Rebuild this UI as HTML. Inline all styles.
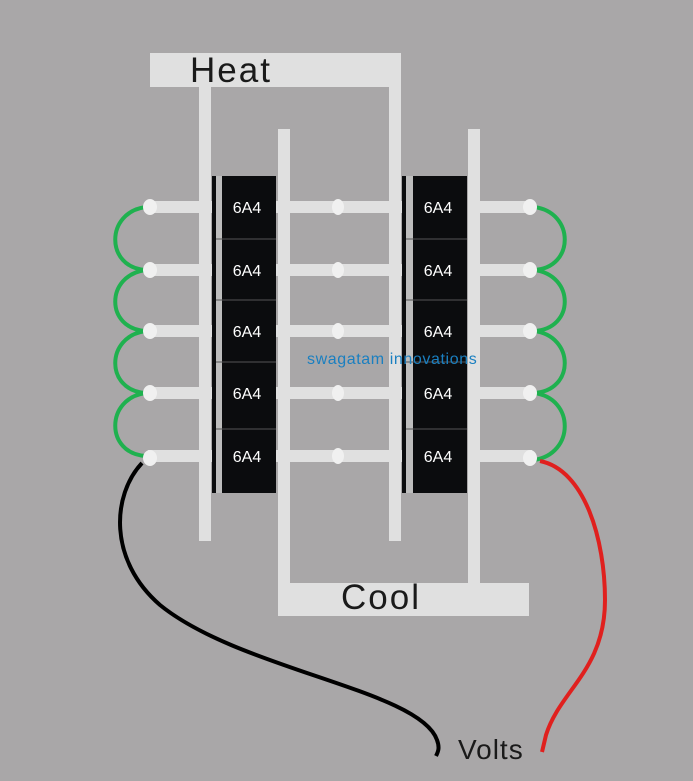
<!DOCTYPE html>
<html><head><style>
html,body{margin:0;padding:0;background:#a9a7a8;}
svg{display:block}
text{font-family:"Liberation Sans",sans-serif}
</style></head><body>
<svg width="693" height="781" viewBox="0 0 693 781">
<rect width="693" height="781" fill="#a9a7a8"/>
<g fill="#e0e0e0">
<rect x="150" y="53" width="251" height="34"/>
<rect x="199" y="87" width="12" height="454"/>
<rect x="389" y="87" width="12" height="454"/>
<rect x="278" y="583" width="251" height="33"/>
<rect x="278" y="129" width="12" height="454"/>
<rect x="468" y="129" width="12" height="454"/>
</g>
<g fill="#e0e0e0">
<rect x="148" y="201" width="130" height="12"/><rect x="290" y="201" width="112" height="12"/><rect x="480" y="201" width="52" height="12"/>
<rect x="148" y="264" width="130" height="12"/><rect x="290" y="264" width="112" height="12"/><rect x="480" y="264" width="52" height="12"/>
<rect x="148" y="325" width="130" height="12"/><rect x="290" y="325" width="112" height="12"/><rect x="480" y="325" width="52" height="12"/>
<rect x="148" y="387" width="130" height="12"/><rect x="290" y="387" width="112" height="12"/><rect x="480" y="387" width="52" height="12"/>
<rect x="148" y="450" width="130" height="12"/><rect x="290" y="450" width="112" height="12"/><rect x="480" y="450" width="52" height="12"/>
</g>
<g fill="#0b0c0e">
<rect x="212" y="176" width="4" height="317"/><rect x="222" y="176" width="54" height="317"/>
<rect x="402" y="176" width="4" height="317"/><rect x="413" y="176" width="54" height="317"/>
</g>
<g fill="#bdbdbd">
<rect x="216" y="176" width="6" height="317"/><rect x="406" y="176" width="7" height="317"/>
</g>
<g stroke="#555" stroke-width="1">
<line x1="216" y1="239" x2="276" y2="239"/><line x1="216" y1="300" x2="276" y2="300"/><line x1="216" y1="362" x2="276" y2="362"/><line x1="216" y1="429" x2="276" y2="429"/>
<line x1="406" y1="239" x2="467" y2="239"/><line x1="406" y1="300" x2="467" y2="300"/><line x1="406" y1="362" x2="467" y2="362"/><line x1="406" y1="429" x2="467" y2="429"/>
</g>
<g fill="#fff" font-size="16" text-anchor="middle">
<text x="247" y="213">6A4</text><text x="247" y="276">6A4</text><text x="247" y="337">6A4</text><text x="247" y="399">6A4</text><text x="247" y="462">6A4</text>
<text x="438" y="213">6A4</text><text x="438" y="276">6A4</text><text x="438" y="337">6A4</text><text x="438" y="399">6A4</text><text x="438" y="462">6A4</text>
</g>
<g fill="none" stroke="#1fb14f" stroke-width="4">
<path d="M146,207 C105,212 105,268 146,270"/>
<path d="M146,270 C105,275 105,329 146,331"/>
<path d="M146,331 C105,336 105,391 146,393"/>
<path d="M146,393 C105,398 105,454 146,456"/>
<path d="M534,207 C575,212 575,268 534,270"/>
<path d="M534,270 C575,275 575,329 534,331"/>
<path d="M534,331 C575,336 575,391 534,393"/>
<path d="M534,393 C575,398 575,454 534,460"/>
</g>
<path d="M142,463 C112,495 108,560 160,605 C240,670 420,690 437,740 C440,748 438,752 436,756" fill="none" stroke="#000" stroke-width="4"/>
<path d="M540,461 C585,470 605,540 605,600 C605,670 560,690 546,735 L542,752" fill="none" stroke="#e0201e" stroke-width="4"/>
<g fill="#f0f0f0">
<ellipse cx="150" cy="207" rx="7" ry="8"/><ellipse cx="150" cy="270" rx="7" ry="8"/><ellipse cx="150" cy="331" rx="7" ry="8"/><ellipse cx="150" cy="393" rx="7" ry="8"/><ellipse cx="150" cy="458" rx="7" ry="8"/>
<ellipse cx="338" cy="207" rx="6" ry="8"/><ellipse cx="338" cy="270" rx="6" ry="8"/><ellipse cx="338" cy="331" rx="6" ry="8"/><ellipse cx="338" cy="393" rx="6" ry="8"/><ellipse cx="338" cy="456" rx="6" ry="8"/>
<ellipse cx="530" cy="207" rx="7" ry="8"/><ellipse cx="530" cy="270" rx="7" ry="8"/><ellipse cx="530" cy="331" rx="7" ry="8"/><ellipse cx="530" cy="393" rx="7" ry="8"/><ellipse cx="530" cy="458" rx="7" ry="8"/>
</g>
<text x="190" y="82" font-size="35" letter-spacing="2" fill="#1a1a1a">Heat</text>
<text x="341" y="609" font-size="35" letter-spacing="2" fill="#1a1a1a">Cool</text>
<text x="458" y="759" font-size="28" letter-spacing="1" fill="#1a1a1a">Volts</text>
<text x="307" y="364" font-size="16" letter-spacing="0.6" fill="#1a7fc0">swagatam innovations</text>
</svg>
</body></html>
